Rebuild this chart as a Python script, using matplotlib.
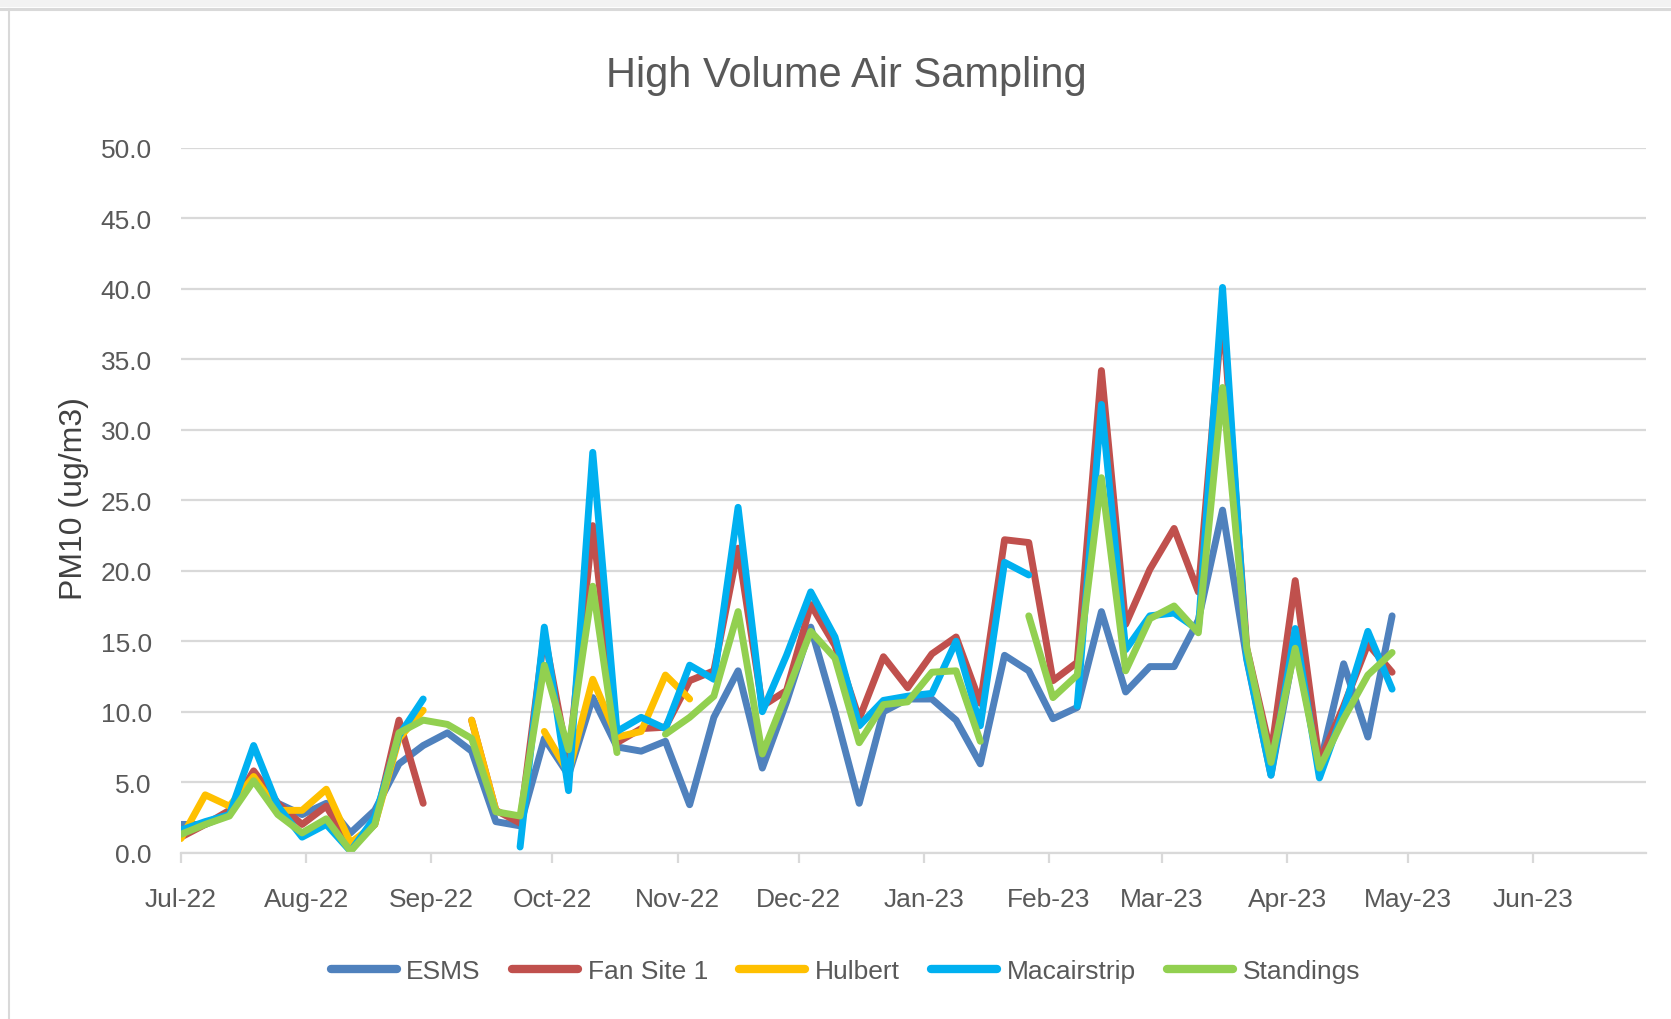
#!/usr/bin/env python3

import numpy as np
import pandas as pd
import matplotlib
matplotlib.use("Agg")
import matplotlib.pyplot as plt
import matplotlib.dates as mdates
from matplotlib.lines import Line2D
from matplotlib.patches import Rectangle

nan = np.nan

# Sampling dates (1-in-6 day schedule)
sample_dates = [
    "2022-07-01", "2022-07-07", "2022-07-13", "2022-07-19", "2022-07-25", "2022-07-31",
    "2022-08-06", "2022-08-12", "2022-08-18", "2022-08-24", "2022-08-30",
    "2022-09-05", "2022-09-11", "2022-09-17", "2022-09-23", "2022-09-29",
    "2022-10-05", "2022-10-11", "2022-10-17", "2022-10-23", "2022-10-29",
    "2022-11-04", "2022-11-10", "2022-11-16", "2022-11-22", "2022-11-28",
    "2022-12-04", "2022-12-10", "2022-12-16", "2022-12-22", "2022-12-28",
    "2023-01-03", "2023-01-09", "2023-01-15", "2023-01-21", "2023-01-27",
    "2023-02-02", "2023-02-08", "2023-02-14", "2023-02-20", "2023-02-26",
    "2023-03-04", "2023-03-10", "2023-03-16", "2023-03-22", "2023-03-28",
    "2023-04-03", "2023-04-09", "2023-04-15", "2023-04-21", "2023-04-27",
]

esms = [2.0, 2.0, 2.7, 5.7, 3.5, 2.7, 3.5, 1.4, 3.0, 6.3, 7.6,
        8.5, 7.2, 2.2, 1.9, 8.1, 5.5, 11.0, 7.5, 7.2, 7.9,
        3.4, 9.6, 12.9, 6.0, 10.7, 16.0, 10.0, 3.5, 10.0, 10.9,
        10.9, 9.4, 6.3, 14.0, 12.9, 9.5, 10.3, 17.1, 11.4, 13.2,
        13.2, 16.5, 24.3, 13.7, 5.5, 14.8, 6.1, 13.4, 8.2, 16.8]

fan_site_1 = [1.1, 2.0, 3.0, 5.8, 3.5, 2.0, 3.3, 0.4, 2.0, 9.4, 3.5,
              nan, 9.4, 3.0, 2.1, 15.5, 6.4, 23.2, 7.8, 8.8, 8.9,
              12.2, 12.9, 21.6, 10.4, 11.5, 17.6, 14.7, 9.5, 13.9, 11.7,
              14.1, 15.3, 10.6, 22.2, 22.0, 12.2, 13.5, 34.2, 16.2, 20.1,
              23.0, 18.5, 38.6, 14.5, 7.0, 19.3, 6.4, 10.4, 14.8, 12.8]

hulbert = [1.0, 4.1, 3.3, 5.4, 3.0, 3.0, 4.5, 0.7, 2.0, 8.1, 10.1,
           nan, 9.4, 3.0, nan, 8.6, 5.7, 12.3, 8.2, 8.6, 12.6,
           10.9, nan, nan, nan, nan, nan, nan, nan, nan, nan,
           nan, nan, nan, nan, nan, nan, nan, nan, nan, nan,
           nan, nan, nan, nan, nan, nan, nan, nan, nan, nan]

macairstrip = [1.6, 2.2, 2.7, 7.6, 3.3, 1.1, 2.0, 0.1, 2.5, 8.3, 10.9,
               nan, nan, nan, 0.4, 16.0, 4.4, 28.4, 8.6, 9.6, 8.8,
               13.3, 12.3, 24.5, 10.0, 14.0, 18.5, 15.3, 9.0, 10.8, 11.1,
               11.3, 15.0, 9.0, 20.6, 19.7, nan, 10.4, 31.8, 14.4, 16.8,
               17.0, 15.8, 40.1, 13.8, 5.5, 15.9, 5.3, 10.1, 15.7, 11.6]

standings = [1.3, 2.0, 2.6, 5.1, 2.7, 1.4, 2.4, 0.1, 2.0, 8.5, 9.4,
             9.1, 8.1, 2.9, 2.6, 13.3, 7.3, 18.9, 7.1, nan, 8.4,
             9.6, 11.1, 17.1, 7.0, 11.3, 15.7, 13.8, 7.8, 10.5, 10.7,
             12.8, 12.9, 7.9, nan, 16.8, 11.0, 12.6, 26.6, 12.9, 16.6,
             17.5, 15.6, 33.0, 14.5, 6.4, 14.5, 6.0, 9.5, 12.6, 14.2]

series_names = ["ESMS", "Fan Site 1", "Hulbert", "Macairstrip", "Standings"]
series_colors = ["#4F81BD", "#C0504D", "#FFC000", "#00B0F0", "#92D050"]

TEXT = "#595959"
GRID = "#D9D9D9"


def main():
    plt.rcParams["font.family"] = ["Liberation Sans", "DejaVu Sans"]

    dates = pd.to_datetime(sample_dates)
    all_series = [esms, fan_site_1, hulbert, macairstrip, standings]

    fig = plt.figure(figsize=(16.71, 10.20), dpi=100)
    fig.patch.set_facecolor("white")

    # light frame of the spreadsheet chart object
    fig.patches.append(Rectangle((0, 1 - 8 / 1020), 1, 8 / 1020, transform=fig.transFigure,
                                 facecolor="#F2F2F2", edgecolor="none"))
    fig.lines.append(Line2D([0, 1], [1 - 9.5 / 1020] * 2, transform=fig.transFigure,
                            color=GRID, linewidth=2.2))
    fig.lines.append(Line2D([8.5 / 1671] * 2, [0, 1 - 9.5 / 1020], transform=fig.transFigure,
                            color=GRID, linewidth=1.5))

    ax = fig.add_axes([0.1083, 0.1631, 0.8770, 0.6909])

    for name, vals, col in zip(series_names, all_series, series_colors):
        ax.plot(dates, vals, color=col, linewidth=5, label=name,
                solid_capstyle="round", solid_joinstyle="round")

    # axes formatting
    ax.set_ylim(0, 50)
    ax.set_yticks(np.arange(0, 51, 5))
    ax.yaxis.set_major_formatter(matplotlib.ticker.FormatStrFormatter("%.1f"))
    ax.set_xlim(pd.Timestamp("2022-07-01"), pd.Timestamp("2023-06-29"))
    ax.xaxis.set_major_locator(mdates.MonthLocator())
    ax.xaxis.set_major_formatter(mdates.DateFormatter("%b-%y"))

    ax.grid(axis="y", color=GRID, linewidth=1.6)
    ax.set_axisbelow(True)
    for side in ["top", "right", "left"]:
        ax.spines[side].set_visible(False)
    ax.spines["bottom"].set_color(GRID)
    ax.spines["bottom"].set_linewidth(1.6)

    ax.tick_params(axis="x", length=7.5, width=1.6, color=GRID, pad=17,
                   labelsize=19, labelcolor=TEXT)
    ax.tick_params(axis="y", length=0, pad=21, labelsize=19, labelcolor=TEXT)

    fig.text(0.5063, 0.9147, "High Volume Air Sampling", ha="center", va="baseline",
             fontsize=30, color=TEXT)
    fig.text(0.044, 0.511, "PM10 (ug/m3)", rotation=90, ha="center", va="center",
             fontsize=23, color="#404040")

    fig.legend(loc="center", bbox_to_anchor=(0.506, 0.047), ncol=5, frameon=False,
               fontsize=19, handlelength=2.5, handletextpad=0.35, columnspacing=1.2,
               labelcolor=TEXT)
    for line in fig.legends[0].get_lines():
        line.set_linewidth(6)
        line.set_solid_capstyle("round")

    fig.savefig("out.png", dpi=100)


if __name__ == "__main__":
    main()
